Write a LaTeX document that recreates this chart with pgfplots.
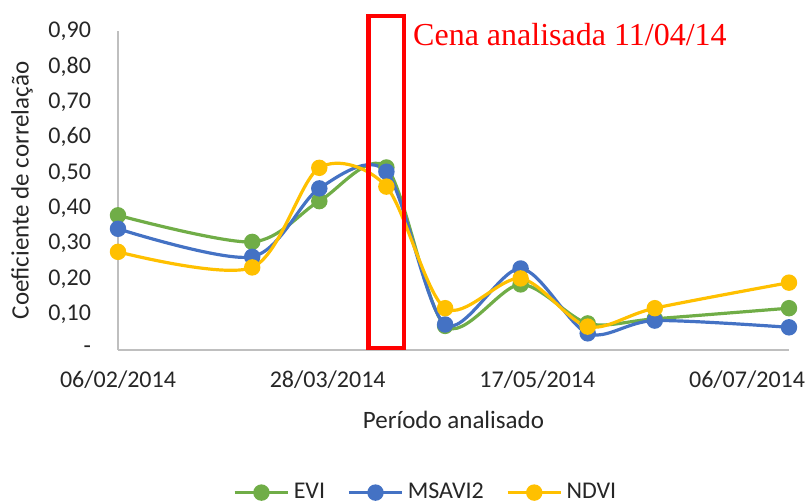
\documentclass[border=0pt]{standalone}
\usepackage{fontspec}
\setmainfont{Carlito}
\newfontfamily\timesfont{Liberation Serif}
\usepackage{pgfplots}
\pgfplotsset{compat=1.18}

\definecolor{evi}{HTML}{70AD47}
\definecolor{msavi}{HTML}{4472C4}
\definecolor{ndvi}{HTML}{FFC000}
\definecolor{axgray}{HTML}{BFBFBF}
\definecolor{txt}{HTML}{262626}

% x = days after 06/02/2014
\pgfplotstableread{
day  evi    msavi  ndvi
0    0.380  0.342  0.277
32   0.305  0.263  0.233
48   0.420  0.456  0.514
64   0.515  0.503  0.461
78   0.068  0.072  0.118
96   0.185  0.230  0.202
112  0.075  0.047  0.066
128  0.088  0.083  0.118
160  0.118  0.064  0.190
}\corr

\begin{document}
\begin{tikzpicture}
\path[use as bounding box] (-59pt,-76.5pt) rectangle (345.5pt,175pt);
\begin{axis}[
  scale only axis,
  width=335.5pt, height=159.5pt,
  xmin=0, xmax=160, ymin=0, ymax=0.9,
  axis x line=bottom, axis y line=left,
  axis line style={axgray, line width=0.9pt, -},
  major tick length=0pt,
  xtick={0,50,100,150},
  xticklabels={06/02/2014,28/03/2014,17/05/2014,06/07/2014},
  ytick={0,0.1,0.2,0.3,0.4,0.5,0.6,0.7,0.8,0.9},
  yticklabels={{-},{0,10},{0,20},{0,30},{0,40},{0,50},{0,60},{0,70},{0,80},{0,90}},
  tick label style={font=\fontsize{12}{14}\selectfont, text=txt},
  xticklabel style={anchor=center, yshift=-15pt},
  yticklabel style={anchor=east, xshift=-10pt},
  xlabel={Período analisado},
  ylabel={Coeficiente de correlação},
  every axis x label/.style={at={(axis description cs:0.5,-0.219)}, anchor=center,
    font=\fontsize{12.5}{14}\selectfont, text=txt},
  every axis y label/.style={at={(axis description cs:-0.143,0.5)}, anchor=center, rotate=90,
    font=\fontsize{12.5}{14}\selectfont, text=txt},
  clip=false,
  legend columns=3,
  legend style={at={(axis description cs:0.46,-0.447)}, anchor=center, draw=none,
    font=\fontsize{12}{14}\selectfont, text=txt,
    /tikz/every even column/.append style={column sep=9pt}},
  legend image code/.code={\draw[#1, mark repeat=2, mark phase=2] plot coordinates {(0cm,0cm) (0.47cm,0cm) (0.94cm,0cm)};},
  every axis plot/.append style={line width=1.6pt, smooth, mark=*, mark size=3.3pt},
]
\addplot[evi, mark options={fill=evi, draw=evi}] table[x=day, y=evi] {\corr};
\addlegendentry{EVI}
\addplot[msavi, mark options={fill=msavi, draw=msavi}] table[x=day, y=msavi] {\corr};
\addlegendentry{MSAVI2}
\addplot[ndvi, mark options={fill=ndvi, draw=ndvi}] table[x=day, y=ndvi] {\corr};
\addlegendentry{NDVI}
\draw[red, line width=2.3pt] (axis cs:59.8,0.006) rectangle (axis cs:68.2,0.942);
\node[anchor=base west, inner sep=0pt, text=red, font=\timesfont\fontsize{16}{19}\selectfont]
  at (axis cs:70.3,0.859) {Cena analisada 11/04/14};
\end{axis}
\end{tikzpicture}
\end{document}
